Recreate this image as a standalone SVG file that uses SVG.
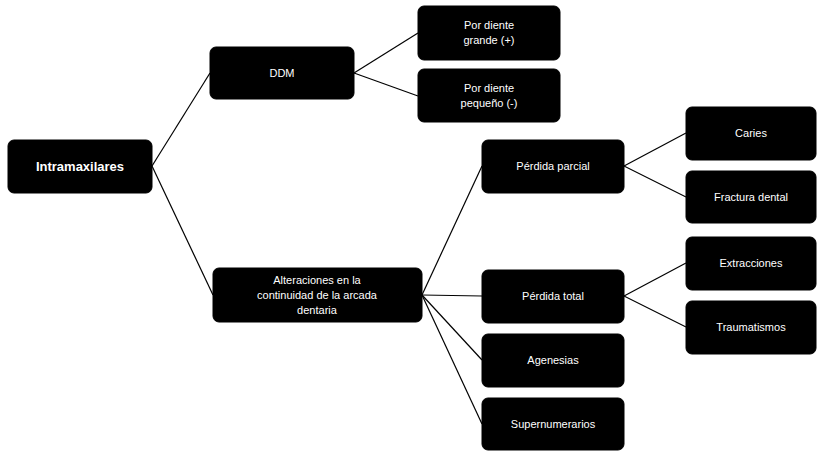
<svg xmlns="http://www.w3.org/2000/svg" width="819" height="451" viewBox="0 0 819 451">
<style>
.n rect{fill:#000;stroke:#000;}
.n text{fill:#fff;font-family:"Liberation Sans",Arial,sans-serif;font-size:11px;text-anchor:middle;}
.n text.b{font-size:13px;font-weight:bold;}
.c line{stroke:#000;stroke-width:1.2;}
</style>
<rect width="819" height="451" fill="#fff"/>
<g class="c">
<line x1="152" y1="166" x2="210" y2="73"/>
<line x1="152" y1="166" x2="213" y2="295"/>
<line x1="354" y1="73" x2="418" y2="33"/>
<line x1="354" y1="73" x2="418" y2="96"/>
<line x1="422" y1="295" x2="482" y2="166"/>
<line x1="422" y1="295" x2="482" y2="296"/>
<line x1="422" y1="295" x2="482" y2="360"/>
<line x1="422" y1="295" x2="482" y2="424"/>
<line x1="624" y1="166" x2="686" y2="133"/>
<line x1="624" y1="166" x2="686" y2="197"/>
<line x1="624" y1="296" x2="686" y2="263"/>
<line x1="624" y1="296" x2="686" y2="327"/>
</g>
<g id="intramaxilares" class="n"><rect x="8" y="140" width="144" height="53" rx="6"/><text class="b" x="80" y="171">Intramaxilares</text></g>
<g id="ddm" class="n"><rect x="210" y="47" width="144" height="52" rx="6"/><text x="282" y="77">DDM</text></g>
<g id="grande" class="n"><rect x="418" y="6" width="142" height="54" rx="6"/><text x="489" y="29">Por diente</text><text x="489" y="44">grande (+)</text></g>
<g id="pequeno" class="n"><rect x="418" y="69" width="142" height="53" rx="6"/><text x="489" y="92">Por diente</text><text x="489" y="107">pequeño (-)</text></g>
<g id="alteraciones" class="n"><rect x="213" y="268" width="209" height="54" rx="6"/><text x="317" y="284">Alteraciones en la</text><text x="317" y="299">continuidad de la arcada</text><text x="317" y="314">dentaria</text></g>
<g id="parcial" class="n"><rect x="482" y="140" width="142" height="53" rx="6"/><text x="553" y="170">Pérdida parcial</text></g>
<g id="total" class="n"><rect x="482" y="270" width="142" height="53" rx="6"/><text x="553" y="300">Pérdida total</text></g>
<g id="agenesias" class="n"><rect x="482" y="334" width="142" height="53" rx="6"/><text x="553" y="364">Agenesias</text></g>
<g id="supernumerarios" class="n"><rect x="482" y="398" width="142" height="52" rx="6"/><text x="553" y="428">Supernumerarios</text></g>
<g id="caries" class="n"><rect x="686" y="107" width="130" height="53" rx="6"/><text x="751" y="137">Caries</text></g>
<g id="fractura" class="n"><rect x="686" y="171" width="130" height="52" rx="6"/><text x="751" y="201">Fractura dental</text></g>
<g id="extracciones" class="n"><rect x="686" y="237" width="130" height="53" rx="6"/><text x="751" y="267">Extracciones</text></g>
<g id="traumatismos" class="n"><rect x="686" y="301" width="130" height="53" rx="6"/><text x="751" y="331">Traumatismos</text></g>
</svg>
